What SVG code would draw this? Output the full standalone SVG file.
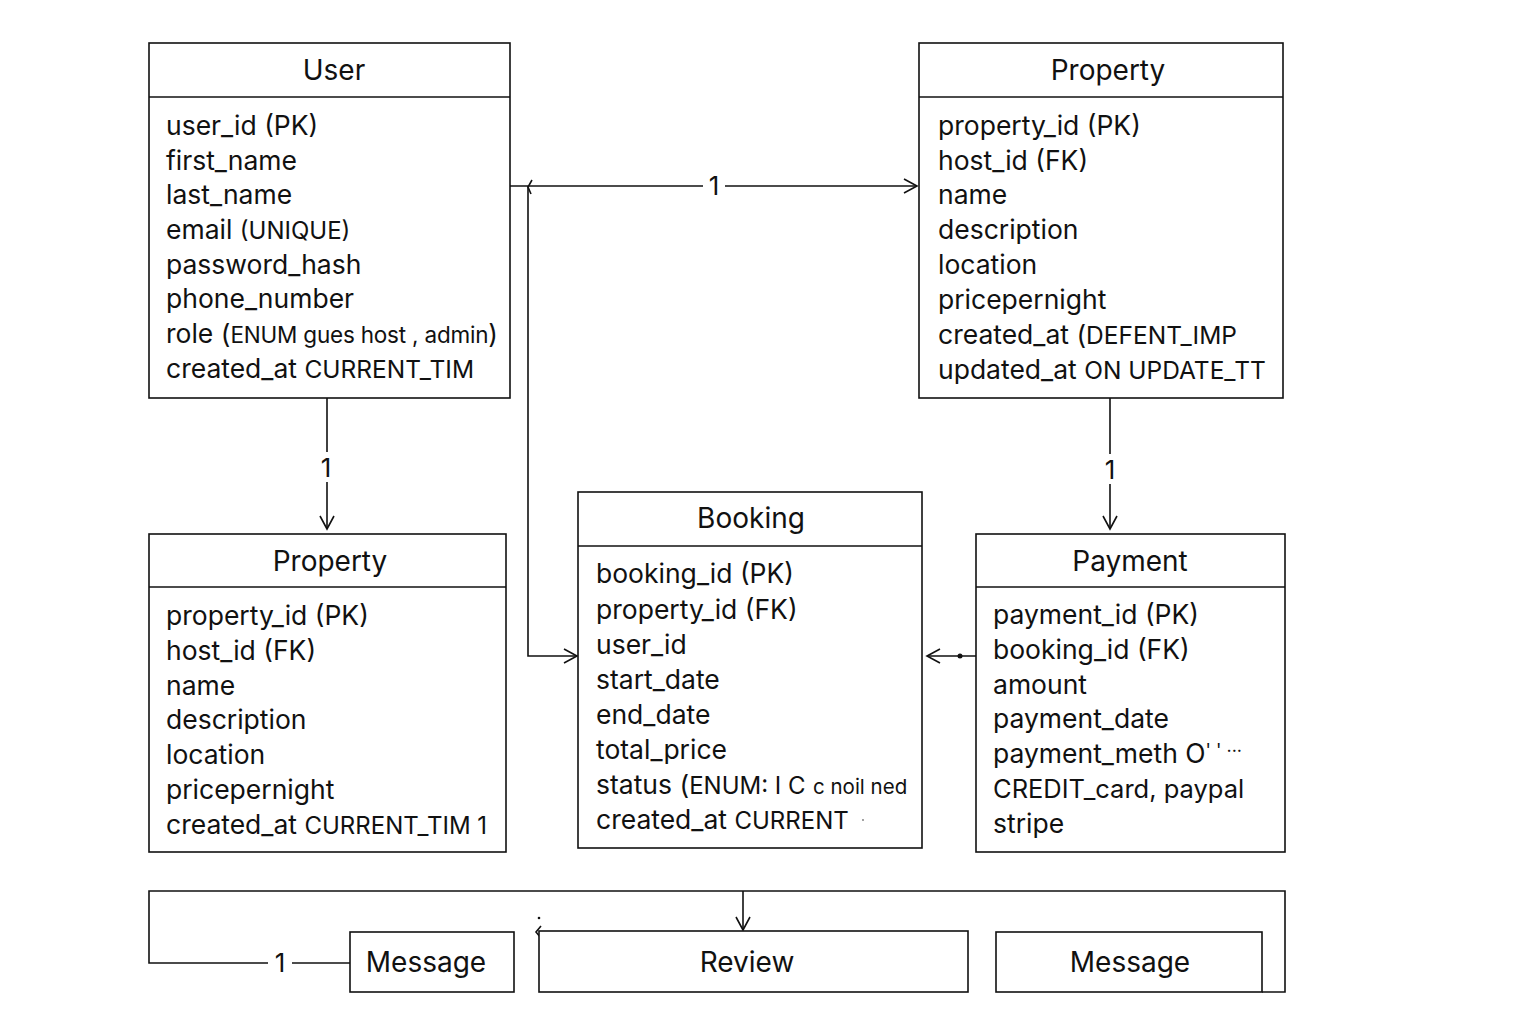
<svg xmlns="http://www.w3.org/2000/svg" width="1536" height="1024" viewBox="0 0 1536 1024">
<style>
.box{fill:#fff;stroke:#111;stroke-width:1.6}
.ln{fill:none;stroke:#111;stroke-width:1.6}
.t{font-family:Inter,"Liberation Sans",Arial,sans-serif;font-size:26.5px;fill:#111}
.h{font-family:Inter,"Liberation Sans",Arial,sans-serif;font-size:28px;fill:#111;text-anchor:middle}
.s{font-size:24px}
.lbl{font-family:Inter,"Liberation Sans",Arial,sans-serif;font-size:26px;fill:#111;text-anchor:middle}
</style>
<defs>
<marker id="ar" markerUnits="userSpaceOnUse" markerWidth="20" markerHeight="20" refX="14" refY="8" orient="auto">
<path d="M1,1 L14,8 L1,15" fill="none" stroke="#111" stroke-width="1.6"/>
</marker>
</defs>
<rect width="1536" height="1024" fill="#fff"/>

<g id="connectors">
<line class="ln" x1="510" y1="186" x2="703" y2="186"/>
<line class="ln" x1="725" y1="186" x2="917" y2="186" marker-end="url(#ar)"/>
<text class="lbl" x="714" y="195">1</text>
<path class="ln" d="M532,180 L528,187 L531,194" stroke-width="2.2"/>
<polyline class="ln" points="528,186 528,656 577,656" marker-end="url(#ar)"/>
<line class="ln" x1="327" y1="398" x2="327" y2="452"/>
<line class="ln" x1="327" y1="482" x2="327" y2="529" marker-end="url(#ar)"/>
<text class="lbl" x="326" y="477">1</text>
<line class="ln" x1="1110" y1="398" x2="1110" y2="454"/>
<line class="ln" x1="1110" y1="484" x2="1110" y2="529" marker-end="url(#ar)"/>
<text class="lbl" x="1110" y="479">1</text>
<line class="ln" x1="976" y1="656" x2="927" y2="656" marker-end="url(#ar)"/>
<circle cx="960" cy="656" r="2.5" fill="#111"/>
<polyline class="ln" points="350,963 292,963"/>
<polyline class="ln" points="268,963 149,963 149,891 1285,891 1285,992 1262,992"/>
<text class="lbl" x="280" y="972">1</text>
<line class="ln" x1="743" y1="891" x2="743" y2="930" marker-end="url(#ar)"/>
<path class="ln" d="M541,926 L536,932 L541,938" stroke-width="2"/>
<circle cx="539" cy="918" r="1.3" fill="#111"/>
</g>

<g id="user">
<rect class="box" x="149" y="43" width="361" height="355"/>
<line class="ln" x1="149" y1="97" x2="510" y2="97"/>
<text class="h" x="334" y="80">User</text>
<text class="t" x="166" y="135">user_id (PK)</text>
<text class="t" x="166" y="170">first_name</text>
<text class="t" x="166" y="204">last_name</text>
<text class="t" x="166" y="239">email <tspan class="s">(UNIQUE)</tspan></text>
<text class="t" x="166" y="274">password_hash</text>
<text class="t" x="166" y="308">phone_number</text>
<text class="t" x="166" y="343">role (<tspan style="font-size:22.5px;letter-spacing:-0.2px">ENUM gues host , admin</tspan>)</text>
<text class="t" x="166" y="378">created_at <tspan style="font-size:24.5px">CURRENT_TIM</tspan></text>
</g>

<g id="property-top">
<rect class="box" x="919" y="43" width="364" height="355"/>
<line class="ln" x1="919" y1="97" x2="1283" y2="97"/>
<text class="h" x="1108" y="80">Property</text>
<text class="t" x="938" y="135">property_id (PK)</text>
<text class="t" x="938" y="170">host_id (FK)</text>
<text class="t" x="938" y="204">name</text>
<text class="t" x="938" y="239">description</text>
<text class="t" x="938" y="274">location</text>
<text class="t" x="938" y="309">pricepernight</text>
<text class="t" x="938" y="344">created_at (<tspan style="font-size:24.5px">DEFENT_IMP</tspan></text>
<text class="t" x="938" y="379">updated_at <tspan style="font-size:24.5px">ON UPDATE_TT</tspan></text>
</g>

<g id="property-bottom">
<rect class="box" x="149" y="534" width="357" height="318"/>
<line class="ln" x1="149" y1="587" x2="506" y2="587"/>
<text class="h" x="330" y="571">Property</text>
<text class="t" x="166" y="625">property_id (PK)</text>
<text class="t" x="166" y="660">host_id (FK)</text>
<text class="t" x="166" y="695">name</text>
<text class="t" x="166" y="729">description</text>
<text class="t" x="166" y="764">location</text>
<text class="t" x="166" y="799">pricepernight</text>
<text class="t" x="166" y="834">created_at <tspan class="s">CURRENT_TIM 1</tspan></text>
</g>

<g id="booking">
<rect class="box" x="578" y="492" width="344" height="356"/>
<line class="ln" x1="578" y1="546" x2="922" y2="546"/>
<text class="h" x="751" y="528">Booking</text>
<text class="t" x="596" y="583">booking_id (PK)</text>
<text class="t" x="596" y="619">property_id (FK)</text>
<text class="t" x="596" y="654">user_id</text>
<text class="t" x="596" y="689">start_date</text>
<text class="t" x="596" y="724">end_date</text>
<text class="t" x="596" y="759">total_price</text>
<text class="t" x="596" y="794">status (<tspan class="s">ENUM: I C</tspan> <tspan style="font-size:20.5px">c noil ned</tspan></text>
<text class="t" x="596" y="829">created_at <tspan class="s">CURRENT</tspan></text>
<circle cx="863" cy="820" r="0.9" fill="#777"/>
</g>

<g id="payment">
<rect class="box" x="976" y="534" width="309" height="318"/>
<line class="ln" x1="976" y1="587" x2="1285" y2="587"/>
<text class="h" x="1130" y="571">Payment</text>
<text class="t" x="993" y="624">payment_id (PK)</text>
<text class="t" x="993" y="659">booking_id (FK)</text>
<text class="t" x="993" y="694">amount</text>
<text class="t" x="993" y="728">payment_date</text>
<text class="t" x="993" y="763">payment_meth O<tspan style="font-size:18px" dy="-6">' ' ···</tspan></text>
<text class="t" x="993" y="798" style="font-size:25.5px">CREDIT_card, paypal</text>
<text class="t" x="993" y="833">stripe</text>
</g>

<g id="message-left">
<rect class="box" x="350" y="932" width="164" height="60"/>
<text class="h" x="426" y="972">Message</text>
</g>

<g id="review">
<rect class="box" x="539" y="931" width="429" height="61"/>
<text class="h" x="747" y="972">Review</text>
</g>

<g id="message-right">
<rect class="box" x="996" y="932" width="266" height="60"/>
<text class="h" x="1130" y="972">Message</text>
</g>
</svg>
